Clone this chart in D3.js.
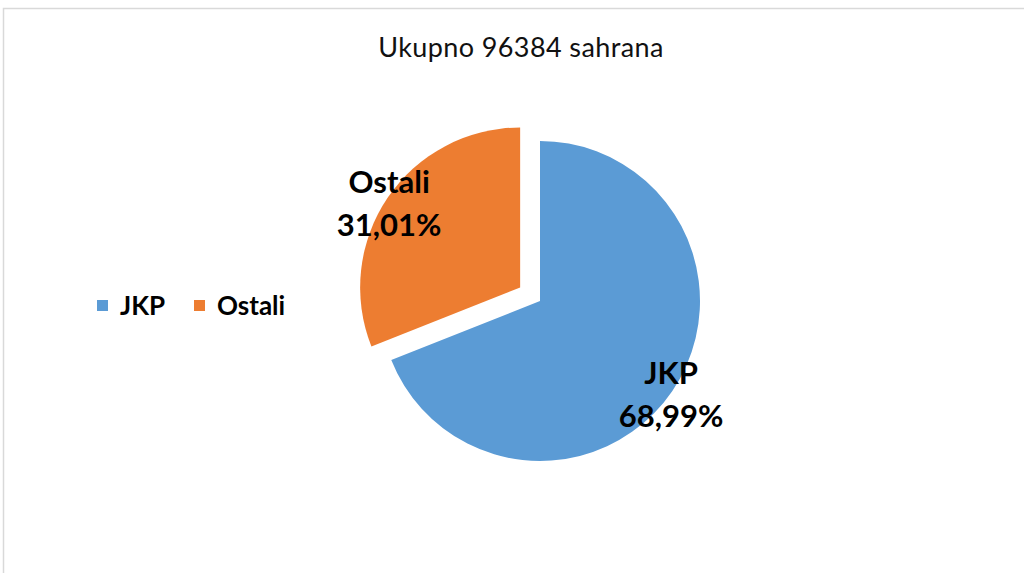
<!DOCTYPE html>
<html>
<head>
<meta charset="utf-8">
<script src="https://cdn.jsdelivr.net/npm/d3@7"></script>
<style>
  body { margin: 0; background: #fff; }
  text { font-family: Lato, "Open Sans", sans-serif; }
</style>
</head>
<body>
<div id="chart"></div>
<script>
let categories = ["JKP", "Ostali"]
let values = [68.99, 31.01]
let labels = ["68,99%", "31,01%"]
let colors = ["#5B9BD5", "#ED7D31"]
let title = "Ukupno 96384 sahrana"

let width = 1024, height = 573
let cx = 540, cy = 301, radius = 160, explode = 24

let svg = d3.select("#chart").append("svg")
    .attr("width", width)
    .attr("height", height)

// chart frame (right/bottom edges fall outside the view)
svg.append("rect")
    .attr("x", 3.5).attr("y", 8.5)
    .attr("width", 1100).attr("height", 700)
    .attr("fill", "none")
    .attr("stroke", "#d9d9d9")
    .attr("stroke-width", 1.5)

svg.append("text")
    .attr("x", 521).attr("y", 57)
    .attr("text-anchor", "middle")
    .style("font-size", "27px")
    .style("letter-spacing", "0.4px")
    .attr("fill", "#111")
    .text(title)

let data = categories.map((c, i) => ({name: c, value: values[i], label: labels[i], color: colors[i]}))

let pie = d3.pie().sort(null).value(d => d.value)
let arc = d3.arc().innerRadius(0).outerRadius(radius)
let labelArc = d3.arc().innerRadius(radius * 0.99).outerRadius(radius * 0.99)

let g = svg.append("g").attr("transform", "translate(" + cx + "," + cy + ")")

let slices = g.selectAll(".slice")
    .data(pie(data))
    .enter().append("g")
    .attr("transform", d => {
        if (d.data.name != "Ostali") return null
        let a = (d.startAngle + d.endAngle) / 2
        return "translate(" + (Math.sin(a) * explode) + "," + (-Math.cos(a) * explode) + ")"
    })

slices.append("path")
    .attr("d", arc)
    .attr("fill", d => d.data.color)

let lab = slices.append("text")
    .attr("text-anchor", "middle")
    .style("font-size", "31px")
    .style("font-weight", "700")
    .attr("fill", "#000")
    .attr("transform", d => {
        let p = labelArc.centroid(d)
        return "translate(" + p[0] + "," + p[1] + ")"
    })
lab.append("tspan").attr("x", 0).attr("y", -6).text(d => d.data.name)
lab.append("tspan").attr("x", 0).attr("y", 37).text(d => d.data.label)

// legend
let legend = svg.append("g").attr("transform", "translate(97,300)")
let xpos = [0, 97]
data.forEach((d, i) => {
    legend.append("rect")
        .attr("x", xpos[i]).attr("y", 0)
        .attr("width", 11).attr("height", 11)
        .attr("fill", d.color)
    legend.append("text")
        .attr("x", xpos[i] + 23).attr("y", 15)
        .style("font-size", "26px")
        .style("font-weight", "700")
        .attr("fill", "#000")
        .text(d.name)
})
</script>
</body>
</html>
